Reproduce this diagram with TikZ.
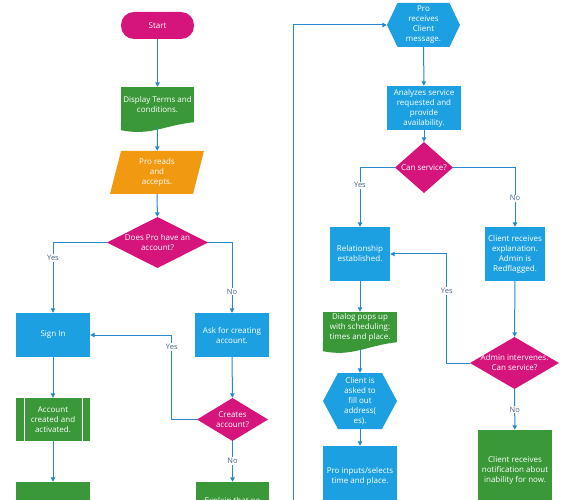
\documentclass[tikz,border=0pt]{standalone}
\usepackage{fontspec}
\setmainfont{Open Sans}
\usetikzlibrary{arrows.meta}

\definecolor{fcblue}{RGB}{29,160,226}
\definecolor{fcgreen}{RGB}{58,152,57}
\definecolor{fcpink}{RGB}{214,21,124}
\definecolor{fcorange}{RGB}{242,153,18}
\definecolor{fcline}{RGB}{40,137,200}
\definecolor{fclabel}{RGB}{70,100,130}

\tikzset{
  every node/.style={font=\fontsize{8}{10}\selectfont, text=white, align=center, inner sep=1pt},
  terminal/.style={rectangle, rounded corners=13pt, fill=fcpink},
  procbox/.style={rectangle, fill=#1},
  docnode/.style={rectangle, fill=fcgreen},
  predef/.style={rectangle, fill=fcgreen, path picture={
    \draw[white, line width=1pt] ([xshift=8pt]path picture bounding box.north west) -- ([xshift=8pt]path picture bounding box.south west);
    \draw[white, line width=1pt] ([xshift=-8pt]path picture bounding box.north east) -- ([xshift=-8pt]path picture bounding box.south east);}},
  decision/.style={rectangle, path picture={
    \fill[fcpink] (path picture bounding box.north) -- (path picture bounding box.east) -- (path picture bounding box.south) -- (path picture bounding box.west) -- cycle;}},
  dataio/.style={rectangle, path picture={
    \fill[fcorange] ([xshift=11pt]path picture bounding box.north west) -- (path picture bounding box.north east) -- ([xshift=-11pt]path picture bounding box.south east) -- (path picture bounding box.south west) -- cycle;}},
  hexnode/.style={rectangle, path picture={
    \fill[fcblue] (path picture bounding box.west) -- ([xshift=#1]path picture bounding box.north west) -- ([xshift=-#1]path picture bounding box.north east) -- (path picture bounding box.east) -- ([xshift=-#1]path picture bounding box.south east) -- ([xshift=#1]path picture bounding box.south west) -- cycle;}},
  flow/.style={draw=fcline, line width=1pt, -{Triangle[length=4.5pt, width=4.5pt]}},
  lbl/.style={text=fclabel, fill=white, inner sep=1pt, font=\fontsize{7.5}{8}\selectfont}
}

\begin{document}
\begin{tikzpicture}[x=1pt, y=-1pt]
\useasboundingbox (0,0) rectangle (579,500);
\clip (0,0) rectangle (579,500);

% left column
\node[terminal, minimum width=73pt, minimum height=27pt] (start) at (157.5,25.5) {Start};
\node[docnode, minimum width=73pt, minimum height=35pt] (terms) at (157.5,104.5) {Display Terms and\\conditions.};
\fill[fcgreen] (terms.south east) .. controls +(-30,3) and +(30,6) .. ([yshift=-8pt]terms.south west) -- (terms.south west) -- cycle;
\node[dataio, minimum width=94pt, minimum height=43pt] (reads) at (157,172.5) {Pro reads\\and\\accepts.};
\node[decision, minimum width=101pt, minimum height=51pt] (hasacc) at (157.5,242.5) {Does Pro have an\\account?};
\node[procbox=fcblue, minimum width=74pt, minimum height=44pt] (signin) at (53,335) {Sign In};
\node[procbox=fcblue, minimum width=74pt, minimum height=44pt] (ask) at (232,335) {Ask for creating\\account.};
\node[predef, minimum width=74pt, minimum height=43pt] (created) at (53,419.5) {Account\\created and\\activated.};
\node[decision, minimum width=71pt, minimum height=43pt] (creates) at (232.5,419.5) {Creates\\account?};
\node[procbox=fcgreen, minimum width=74pt, minimum height=40pt] (welcome) at (53,502) {};
\node[procbox=fcgreen, minimum width=73pt, minimum height=38pt] (explain) at (232.5,501) {Explain that no};

\draw[flow] (start) -- (terms);
\draw[flow] ([yshift=-5pt]terms.south) -- (reads);
\draw[flow] (reads) -- (hasacc);
\draw[flow] (hasacc.west) -| node[lbl, pos=0.61] {Yes} (signin.north);
\draw[flow] (hasacc.east) -| node[lbl, pos=0.85] {No} (ask.north);
\draw[flow] (signin) -- (created);
\draw[flow] (created) -- (welcome);
\draw[flow] (ask) -- (creates);
\draw[flow] (creates) -- node[lbl, pos=0.49] {No} (explain);
\draw[flow] (creates.west) -- ++(-25,0) |- node[lbl, pos=0.43] {Yes} (signin.east);

% right column
\coordinate (loopend) at (293,500);
\node[hexnode=10.5pt, minimum width=73pt, minimum height=44pt] (pmsg) at (423.5,25) {Pro\\receives\\Client\\message.};
\node[procbox=fcblue, minimum width=74pt, minimum height=44pt] (analyze) at (424,108) {Analyzes service\\requested and\\provide\\availability.};
\node[decision, minimum width=58pt, minimum height=51pt] (cansvc) at (424,167.5) {Can service?};
\node[procbox=fcblue, minimum width=60pt, minimum height=54pt] (rel) at (360,254) {Relationship\\established.};
\node[procbox=fcblue, minimum width=60pt, minimum height=54pt] (expl) at (515,254) {Client receives\\explanation.\\Admin is\\Redflagged.};
\node[decision, minimum width=89pt, minimum height=52pt] (admin) at (514.5,363) {Admin intervenes.\\Can service?};
\node[procbox=fcgreen, minimum width=74pt, minimum height=80pt] (notif) at (515,470) {Client receives\\notification about\\inability for now.};
\node[docnode, minimum width=74pt, minimum height=30pt] (dialog) at (360,327) {Dialog pops up\\with scheduling:\\times and place.};
\fill[fcgreen] (dialog.south east) .. controls +(-30,3) and +(30,6) .. ([yshift=-9pt]dialog.south west) -- (dialog.south west) -- cycle;
\node[hexnode=15pt, minimum width=74pt, minimum height=56pt] (client) at (360,401) {Client is\\asked to\\fill out\\address(\\es).};
\node[procbox=fcblue, minimum width=74pt, minimum height=60pt] (inputs) at (360,476) {Pro inputs/selects\\time and place.};

\draw[flow] (loopend) |- (pmsg.west);
\draw[flow] (pmsg) -- (analyze);
\draw[flow] (analyze) -- (cansvc);
\draw[flow] (cansvc.west) -| node[lbl, pos=0.65] {Yes} (rel.north);
\draw[flow] (cansvc.east) -| node[lbl, pos=0.76] {No} (expl.north);
\draw[flow] (expl) -- (admin);
\draw[flow] (admin) -- node[lbl] {No} (notif);
\draw[flow] (admin.west) -- ++(-23,0) |- node[lbl, pos=0.33] {Yes} (rel.east);
\draw[flow] (rel) -- (dialog);
\draw[flow] ([yshift=-7pt]dialog.south) -- (client);
\draw[flow] (client) -- (inputs);

\end{tikzpicture}
\end{document}
